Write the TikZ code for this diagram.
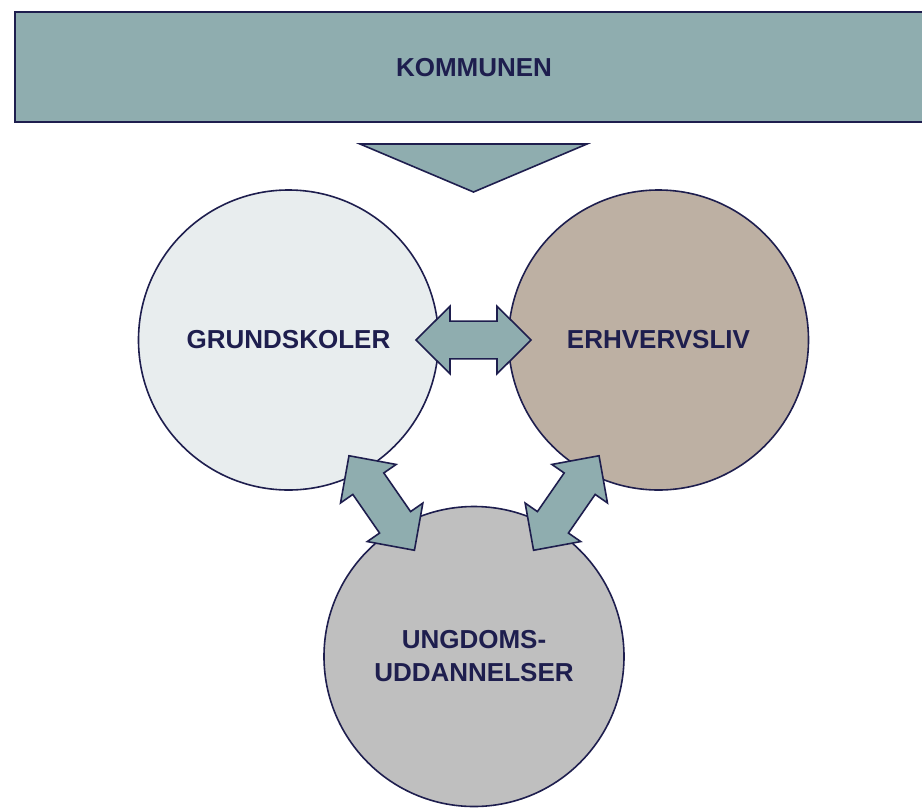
\documentclass[tikz,border=0pt]{standalone}
\usepackage{fontspec}
\setmainfont{Liberation Sans}
\definecolor{navy}{RGB}{30,30,78}
\definecolor{teal}{RGB}{143,173,175}
\definecolor{gfill}{RGB}{232,237,238}
\definecolor{efill}{RGB}{189,176,163}
\definecolor{ufill}{RGB}{191,191,191}
\tikzset{
  outl/.style={draw=navy, line width=1.6pt, line join=miter},
  circ/.style={circle, outl, minimum size=300pt, inner sep=0pt, align=center,
    font=\fontsize{26}{33}\selectfont\bfseries, text=navy},
  dbl/.pic={\draw[outl, fill=teal] (-57.5,0) -- (-23.5,33.8) -- (-23.5,18.85) -- (23.5,18.85)
     -- (23.5,33.8) -- (57.5,0) -- (23.5,-33.8) -- (23.5,-18.85) -- (-23.5,-18.85)
     -- (-23.5,-33.8) -- cycle;}
}
\begin{document}
\begin{tikzpicture}[x=1pt,y=-1pt]
\useasboundingbox (0,0) rectangle (922,807);
\clip (0,0) rectangle (922,807);
\fill[white] (0,0) rectangle (922,807);
% top bar
\node[outl, fill=teal, rectangle, minimum width=921pt, minimum height=110pt, anchor=north west,
  font=\fontsize{26}{33}\selectfont\bfseries, text=navy, inner sep=0pt] (kom) at (14,11) {};
\node[font=\fontsize{26}{33}\selectfont\bfseries, text=navy] (komtxt) at (474,68) {KOMMUNEN};
% triangle
\draw[outl, fill=teal] (360,144) coordinate (t1) -- (587,144) coordinate (t2) -- (473.5,192) coordinate (t3) -- cycle;
% circles
\node[circ, fill=gfill] (grund) at (288.5,340) {GRUNDSKOLER};
\node[circ, fill=efill] (erhv) at (658.5,340) {ERHVERVSLIV};
\node[circ, fill=ufill] (ung) at (474,656.5) {UNGDOMS-\\UDDANNELSER};
% double arrows
\pic at (473.5,340) {dbl};
\pic[rotate=-55.3] at (381.7,503) {dbl};
\pic[rotate=55.3] at (566.3,503) {dbl};
\end{tikzpicture}
\end{document}
